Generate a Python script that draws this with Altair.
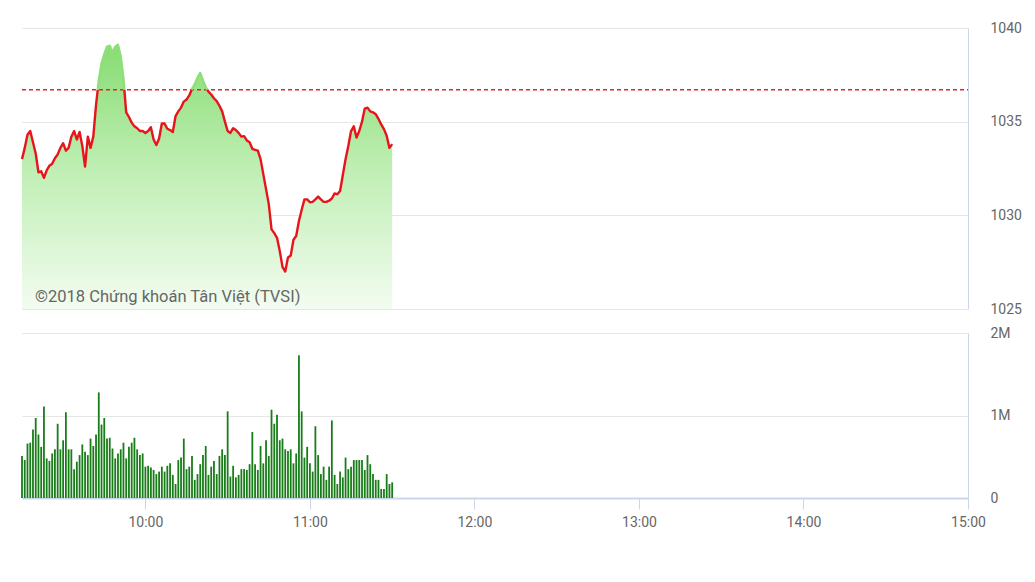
import altair as alt
import pandas as pd

# ---- data ----
start_minute = 9 * 60 + 15          # 09:15, one point per minute
index_values = [
    1033.0, 1033.6, 1034.3, 1034.5, 1033.9, 1033.3, 1032.3, 1032.35, 1032.0, 1032.4,
    1032.65, 1032.75, 1033.05, 1033.25, 1033.6, 1033.85, 1033.45, 1033.6, 1034.2, 1034.5,
    1034.05, 1034.45, 1033.7, 1032.6, 1034.2, 1033.6, 1034.2, 1035.9, 1037.2, 1038.1,
    1038.6, 1039.0, 1039.05, 1038.7, 1039.0, 1039.1, 1038.5, 1037.3, 1035.5, 1035.25,
    1034.95, 1034.75, 1034.65, 1034.5, 1034.5, 1034.4, 1034.5, 1034.7, 1034.05, 1033.75,
    1034.1, 1034.9, 1034.9, 1034.62, 1034.55, 1034.45, 1035.3, 1035.55, 1035.75, 1036.07,
    1036.18, 1036.4, 1036.75, 1037.0, 1037.35, 1037.6, 1037.2, 1036.85, 1036.6, 1036.45,
    1036.25, 1036.1, 1035.85, 1035.55, 1035.0, 1034.5, 1034.4, 1034.65, 1034.55, 1034.4,
    1034.2, 1034.23, 1034.0, 1033.9, 1033.55, 1033.5, 1033.45, 1033.0, 1032.2, 1031.4,
    1030.6, 1029.25, 1029.05, 1028.8, 1028.1, 1027.25, 1027.0, 1027.75, 1027.85, 1028.7,
    1028.9, 1029.7, 1030.3, 1030.85, 1030.85, 1030.7, 1030.72, 1030.85, 1031.0, 1030.85,
    1030.72, 1030.72, 1030.78, 1030.9, 1031.17, 1031.12, 1031.3, 1032.15, 1033.0, 1033.7,
    1034.5, 1034.75, 1034.15, 1034.5, 1035.0, 1035.7, 1035.75, 1035.55, 1035.5, 1035.4,
    1035.15, 1034.85, 1034.6, 1034.25, 1033.6, 1033.8,
]
volumes_m = [
    0.51, 0.46, 0.66, 0.67, 0.83, 0.97, 0.77, 0.62, 1.11, 0.48, 0.45, 0.54, 0.59, 0.90,
    0.59, 0.70, 1.04, 0.59, 0.59, 0.35, 0.44, 0.52, 0.65, 0.56, 0.52, 0.72, 0.63, 0.77,
    1.28, 0.89, 0.97, 0.72, 0.73, 0.60, 0.48, 0.54, 0.59, 0.67, 0.48, 0.62, 0.67, 0.73,
    0.59, 0.52, 0.54, 0.38,
    0.39, 0.37, 0.34, 0.29, 0.32, 0.38, 0.32, 0.39, 0.42, 0.28, 0.17, 0.46, 0.49, 0.72,
    0.35, 0.38, 0.51, 0.22, 0.29, 0.41, 0.52, 0.63, 0.28, 0.38, 0.45, 0.29, 0.51, 0.59,
    0.52, 1.05, 0.26, 0.39, 0.25, 0.28, 0.35, 0.35, 0.34, 0.41, 0.80, 0.41, 0.34, 0.63,
    0.42, 0.70,
    0.51, 1.07, 0.90, 1.01, 0.70, 0.72, 0.59, 0.57, 0.59, 0.42, 0.54, 1.73, 1.05, 0.49,
    0.62, 0.42, 0.32, 0.87, 0.52, 0.29, 0.38, 0.22, 0.38, 0.94, 0.28, 0.17, 0.32, 0.25,
    0.49, 0.35, 0.38, 0.46, 0.46, 0.46, 0.46, 0.34, 0.52, 0.41, 0.29, 0.22, 0.22, 0.11,
    0.11, 0.29, 0.17, 0.19,
]
reference_level = 1036.7
y_ticks_index = [1025, 1030, 1035, 1040]
y_ticks_volume = [0, 1, 2]
x_ticks = [600, 660, 720, 780, 840, 900]   # 10:00 ... 15:00
x_domain = [555, 900]
watermark = "©2018 Chứng khoán Tân Việt (TVSI)"

minutes = [start_minute + i for i in range(len(index_values))]
vol_minutes = [start_minute + i for i in range(len(volumes_m))]

# split line into segments above / below the reference level
rows = []
seg = 0
prev = None
for t, v in zip(minutes, index_values):
    zone = "above" if v > reference_level else "below"
    if prev is not None and prev[2] != zone:
        t0, v0, z0 = prev
        tc = t0 + (reference_level - v0) / (v - v0) * (t - t0)
        rows.append(dict(t=tc, v=reference_level, seg=seg, zone=z0))
        seg += 1
        rows.append(dict(t=tc, v=reference_level, seg=seg, zone=zone))
    rows.append(dict(t=t, v=v, seg=seg, zone=zone))
    prev = (t, v, zone)

line_df = pd.DataFrame(rows)
area_df = pd.DataFrame({"t": minutes, "v": index_values})
vol_df = pd.DataFrame({"t": vol_minutes, "vol": volumes_m})
ref_df = pd.DataFrame({"t": [x_domain[0]], "t2": [x_domain[1]], "v": [reference_level]})

FONT = "Roboto"
LABEL_COLOR = "#666666"
GRID = "#e6e6e6"
AXIS_LINE = "#ccd6eb"
W = 946

x_scale = alt.Scale(domain=x_domain, nice=False, zero=False, padding=0)
x_top = alt.X("t:Q", scale=x_scale, axis=None)
y_scale = alt.Scale(domain=[1025, 1040], nice=False, zero=False)
y_axis_top = alt.Axis(
    orient="right", values=y_ticks_index, format="d", grid=True, gridColor=GRID,
    domain=True, domainColor=AXIS_LINE, ticks=False, labelPadding=22,
    labelFontSize=14, labelColor=LABEL_COLOR, labelFont=FONT, title=None)

gradient = alt.Gradient(
    gradient="linear",
    stops=[
        alt.GradientStop(color="#86dc72", offset=0),
        alt.GradientStop(color="#bdeeb1", offset=0.45),
        alt.GradientStop(color="#f3fcf1", offset=1),
    ],
    x1=1, x2=1, y1=0, y2=1,
)

area = alt.Chart(area_df).mark_area(color=gradient, opacity=1).encode(
    x=x_top,
    y=alt.Y("v:Q", scale=y_scale, axis=y_axis_top),
    y2=alt.datum(1025),
)

ref_rule = alt.Chart(ref_df).mark_rule(
    color="#e0262b", strokeDash=[4, 3], strokeWidth=1.5
).encode(
    x=alt.X("t:Q", scale=x_scale, axis=None),
    x2="t2:Q",
    y=alt.Y("v:Q", scale=y_scale, axis=y_axis_top),
)

line = alt.Chart(line_df).mark_line(strokeWidth=2.4, strokeJoin="round").encode(
    x=x_top,
    y=alt.Y("v:Q", scale=y_scale, axis=y_axis_top),
    detail="seg:N",
    color=alt.Color("zone:N", scale=alt.Scale(domain=["below", "above"], range=["#e8141b", "#8ddf7a"]), legend=None),
    order="t:Q",
)

text = alt.Chart(pd.DataFrame({"s": [watermark]})).mark_text(
    align="left", baseline="middle", fontSize=16.5, font=FONT, color="#666666"
).encode(x=alt.value(13), y=alt.value(269), text="s:N")

top = alt.layer(area, ref_rule, line, text).properties(width=W, height=281)

bars = alt.Chart(vol_df).mark_bar(color="#187d18", size=1.8).encode(
    x=alt.X("t:Q", scale=x_scale, axis=alt.Axis(
        values=x_ticks, labelExpr="floor(datum.value/60) + ':00'", grid=False,
        domain=True, domainColor=AXIS_LINE, domainWidth=2, ticks=True, tickColor=AXIS_LINE,
        tickSize=11, labelPadding=6, labelFlush=False, labelFontSize=14,
        labelColor=LABEL_COLOR, labelFont=FONT, title=None)),
    y=alt.Y("vol:Q", scale=alt.Scale(domain=[0, 2], nice=False), axis=alt.Axis(
        orient="right", values=y_ticks_volume, grid=True, gridColor=GRID,
        labelExpr="datum.value == 0 ? '0' : datum.value + 'M'",
        domain=True, domainColor=AXIS_LINE, ticks=False, labelPadding=22,
        labelFontSize=14, labelColor=LABEL_COLOR, labelFont=FONT, title=None)),
)

bottom = bars.properties(width=W, height=165)

chart = alt.vconcat(top, bottom, spacing=24, bounds="flush").properties(
    padding={"left": 12, "top": 13, "right": 5, "bottom": 5},
    background="white",
).configure_view(stroke=None)

chart.save("out.html", embed_options={"renderer": "svg", "actions": False})
